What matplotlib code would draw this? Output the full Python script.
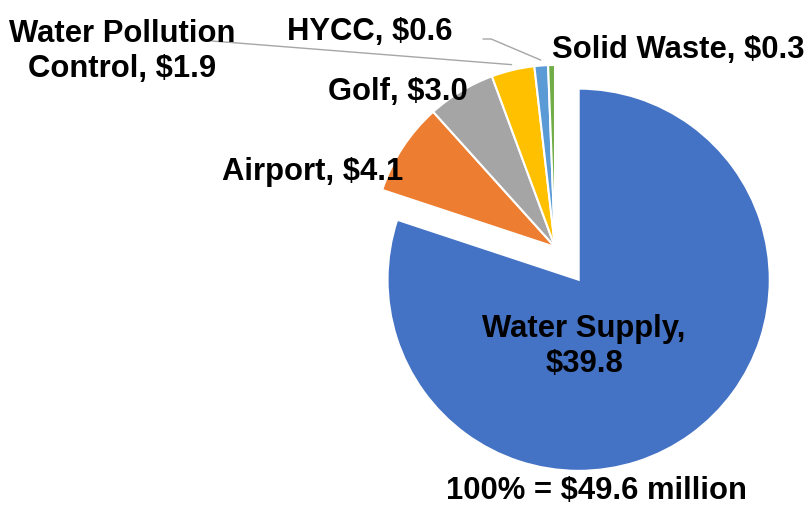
import numpy as np
import matplotlib
matplotlib.use("Agg")
import matplotlib.pyplot as plt

# ---- data ----
categories = ["Water Supply", "Airport", "Golf", "Water Pollution\nControl", "HYCC", "Solid Waste"]
values = [39.8, 4.1, 3.0, 1.9, 0.6, 0.3]
total_label = "100% = $49.6 million"
colors = ["#4472C4", "#ED7D31", "#A5A5A5", "#FFC000", "#5B9BD5", "#70AD47"]

W, H = 812, 506
fig = plt.figure(figsize=(W / 100, H / 100), dpi=100)
ax = fig.add_axes([0, 0, 1, 1])

plt.rcParams['font.family'] = ['Liberation Sans', 'DejaVu Sans']

wedges, _ = ax.pie(values, colors=colors, startangle=90, counterclock=False,
                   explode=[0.222, 0, 0, 0, 0, 0], radius=1,
                   wedgeprops=dict(edgecolor='white', linewidth=1.5))
wedges[0].set_radius(1.05)

# pie centre at pixel (555, 248), 182 px per unit
cx, cy, s = 555, 248, 182
ax.set_xlim(-cx / s, (W - cx) / s)
ax.set_ylim(-(H - cy) / s, cy / s)
ax.set_aspect('auto')
ax.axis('off')

def fp(x, y):
    return (x / W, 1 - y / H)

fs = 22.3
tkw = dict(fontsize=fs, fontweight='bold', color='black', family=['Liberation Sans', 'DejaVu Sans'],
           transform=fig.transFigure, va='baseline')

labels = []
for i, (c, v) in enumerate(zip(categories, values)):
    if i == 0:
        labels.append(f"{c},\n${v:.1f}")
    else:
        labels.append(f"{c}, ${v:.1f}")

# positions (pixel, baseline of last line) and alignment
pos = [((584, 372), 'center'),
       ((222, 180), 'left'),
       ((328, 100), 'left'),
       ((122, 77), 'center'),
       ((287, 40), 'left'),
       ((552, 58), 'left')]

for lab, ((x, y), ha) in zip(labels, pos):
    fig.text(*fp(x, y), lab, ha=ha, multialignment='center', linespacing=1.2, **tkw)

fig.text(*fp(596, 499), total_label, ha='center', **tkw)

def outer_mid(w, r=1.0):
    th = np.deg2rad((w.theta1 + w.theta2) / 2)
    return (w.center[0] + r * np.cos(th), w.center[1] + r * np.sin(th))

lc = '#A6A6A6'
# Water Pollution Control leader
ax.annotate("", xy=outer_mid(wedges[3], 1.03), xycoords='data',
            xytext=fp(212, 42), textcoords='figure fraction',
            arrowprops=dict(arrowstyle='-', color=lc, lw=1, shrinkA=0, shrinkB=0))
# HYCC leader
ax.annotate("", xy=outer_mid(wedges[4], 1.03), xycoords='data',
            xytext=fp(483, 40), textcoords='figure fraction',
            arrowprops=dict(arrowstyle='-', color=lc, lw=1, shrinkA=0, shrinkB=0,
                            connectionstyle='angle,angleA=0,angleB=-23,rad=0'))

fig.savefig("out.png", dpi=100)
